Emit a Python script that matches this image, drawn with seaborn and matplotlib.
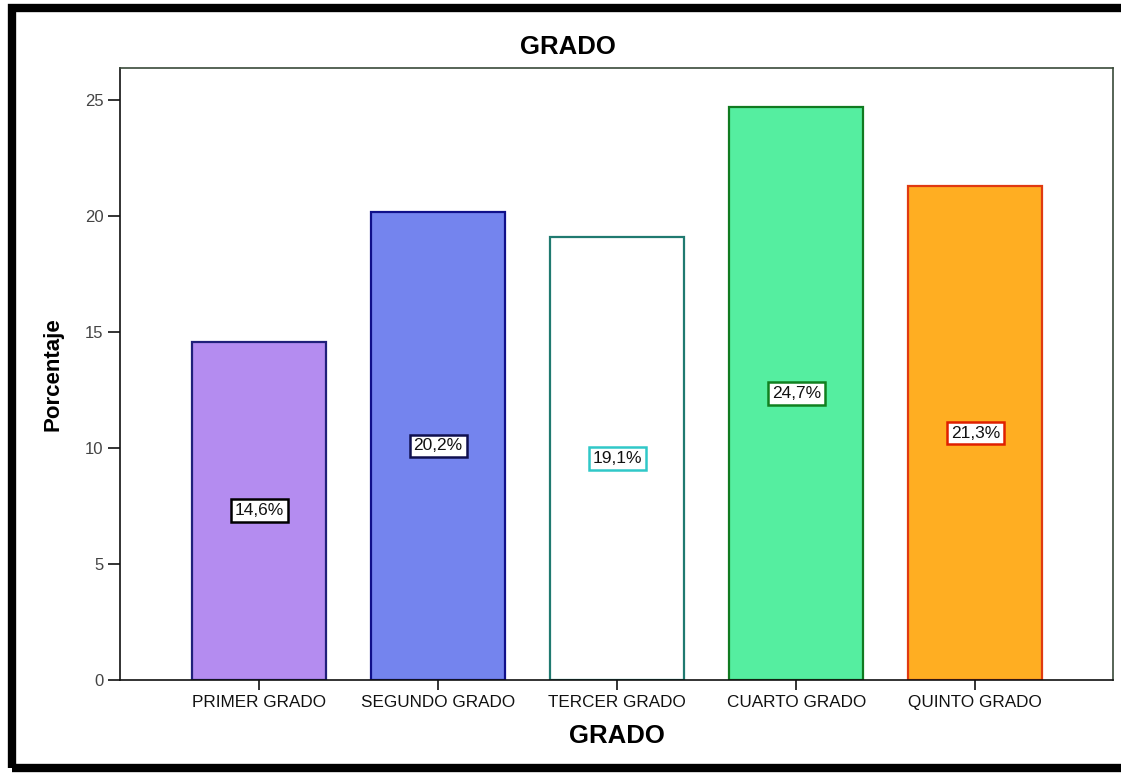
import matplotlib
matplotlib.use("Agg")
import matplotlib.pyplot as plt
import matplotlib.patches as mpatches
import seaborn as sns
import pandas as pd

# Distribución de estudiantes por grado (porcentaje)
grados = ["PRIMER GRADO", "SEGUNDO GRADO", "TERCER GRADO", "CUARTO GRADO", "QUINTO GRADO"]
porcentajes = [14.6, 20.2, 19.1, 24.7, 21.3]
etiquetas = ["14,6%", "20,2%", "19,1%", "24,7%", "21,3%"]
yticks = [0, 5, 10, 15, 20, 25]

relleno = ["#b48cf0", "#7484ee", "#ffffff", "#55eea0", "#ffae22"]
borde = ["#20207a", "#10108a", "#207a70", "#107a20", "#e03a10"]
borde_etiqueta = ["#000000", "#101050", "#30c8c8", "#108020", "#e02000"]

sns.set_style("white")
plt.rcParams["font.family"] = ["Liberation Sans", "DejaVu Sans"]
plt.rcParams["text.color"] = "black"
plt.rcParams["axes.labelcolor"] = "black"

df = pd.DataFrame({"GRADO": grados, "Porcentaje": porcentajes})

fig = plt.figure(figsize=(11.21, 7.73), dpi=100)
ax = fig.add_axes([0.107, 0.1203, 0.886, 0.7917])

sns.barplot(data=df, x="GRADO", y="Porcentaje", hue="GRADO",
            palette=relleno, legend=False, width=0.75, saturation=1,
            linewidth=1.6, ax=ax)

for barra, ec in zip(ax.patches, borde):
    barra.set_edgecolor(ec)

for i, (v, txt, ec) in enumerate(zip(porcentajes, etiquetas, borde_etiqueta)):
    ax.text(i, v / 2, txt, ha="center", va="center", fontsize=12.5,
            color="#111111",
            bbox=dict(boxstyle="square,pad=0.22", fc="white", ec=ec, lw=1.8))

ax.set_xlim(-0.777, 4.77)
ax.set_ylim(0, 26.4)
ax.set_yticks(yticks)
ax.set_yticklabels([str(t) for t in yticks], fontsize=12, color="#444444")
ax.tick_params(axis="x", bottom=True, labelsize=12.3, labelcolor="#111111",
               color="#111111", length=7, width=1.2, direction="out", pad=4)
ax.tick_params(axis="y", left=True, color="#111111", length=9, width=1.2,
               direction="out", pad=3)

for s in ax.spines.values():
    s.set_visible(True)
    s.set_color("#3a4a3a")
    s.set_linewidth(1.2)
ax.spines["left"].set_color("#111111")
ax.spines["bottom"].set_color("#111111")

ax.set_xlabel("GRADO", fontsize=18.5, fontweight="bold", labelpad=10)
ax.set_ylabel("Porcentaje", fontsize=16, fontweight="bold")
ax.yaxis.set_label_coords(-0.057, 0.5)

fig.text(568 / 1121, 1 - 47 / 773, "GRADO", ha="center", va="center",
         fontsize=18.5, fontweight="bold")

# Marco exterior grueso
marco = mpatches.Rectangle((12 / 1121, 1 - 768 / 773), 1.2, 760 / 773,
                           transform=fig.transFigure, fill=False,
                           ec="black", lw=6, clip_on=False)
fig.add_artist(marco)

fig.savefig("out.png", dpi=100, facecolor="white")
